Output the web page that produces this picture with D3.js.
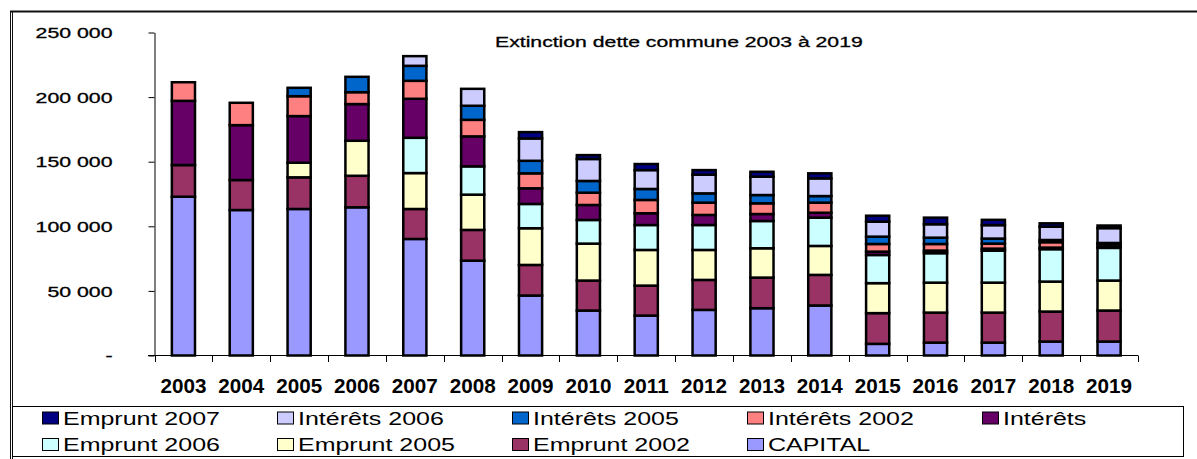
<!DOCTYPE html>
<html><head><meta charset="utf-8">
<script src="https://cdn.jsdelivr.net/npm/d3@7/dist/d3.min.js"></script>
<style>html,body{margin:0;padding:0;background:#fff;overflow:hidden;} svg{display:block;font-family:"Liberation Sans",Arial,sans-serif;}</style>
</head><body><svg id="c" width="1197" height="459"></svg>
<script>
const title = "Extinction dette commune 2003 à 2019";
const years = ["2003","2004","2005","2006","2007","2008","2009","2010","2011","2012","2013","2014","2015","2016","2017","2018","2019"];
const seriesNames = ["CAPITAL","Emprunt 2002","Emprunt 2005","Emprunt 2006","Intérêts","Intérêts 2002","Intérêts 2005","Intérêts 2006","Emprunt 2007"];
const seriesColors = ["#9999FF","#993366","#FFFFCC","#CCFFFF","#660066","#FF8080","#0066CC","#CCCCFF","#000080"];
const capital     = [122900,112600,113400,114700,90200,73400,46400,34800,30900,35300,36600,38700,9000,10000,10000,10800,10800];
const emprunt2002 = [24500,23200,24500,24400,23200,23800,23700,23200,23200,23200,23700,23700,23800,23200,23200,23200,24000];
const emprunt2005 = [0,0,11300,27100,27800,27300,28400,28600,27600,23200,22700,22400,23200,23200,23200,23200,23200];
const emprunt2006 = [0,0,0,0,27300,21900,18800,18300,19300,19300,21100,21900,21800,22800,24800,25100,25300];
const interets    = [49700,42500,36100,28400,30200,23200,12100,11600,9100,7800,5400,3800,2600,2000,1500,1200,800];
const interets2002= [14400,17300,15400,9200,13900,12800,11600,9500,10300,9500,8300,7800,5900,5100,3900,4200,2000];
const interets2005= [0,0,6500,11900,11600,10900,9700,9100,8500,7200,6400,5100,5700,4900,3900,1700,1000];
const interets2006= [0,0,0,0,7500,13100,17300,17000,14600,14400,14200,13700,11600,10400,10400,10300,11500];
const emprunt2007 = [0,0,0,0,0,0,4900,3000,4700,3600,3800,3900,4600,5100,4100,2600,2000];
const yTicks = [0,50000,100000,150000,200000,250000];
const legendRow1 = ["Emprunt 2007","Intérêts 2006","Intérêts 2005","Intérêts 2002","Intérêts"];
const legendRow2 = ["Emprunt 2006","Emprunt 2005","Emprunt 2002","CAPITAL"];

const seriesValues = [capital,emprunt2002,emprunt2005,emprunt2006,interets,interets2002,interets2005,interets2006,emprunt2007];
const colorOf = d3.scaleOrdinal().domain(seriesNames).range(seriesColors);
const table = years.map((yr,i)=>{const o={year:yr}; seriesNames.forEach((s,j)=>o[s]=seriesValues[j][i]); return o;});
const stacked = d3.stack().keys(seriesNames)(table);

const svg = d3.select("#c");
const x = d3.scaleBand().domain(years).range([154.5,1138]).paddingInner(0.6).paddingOuter(0.3);
const y = d3.scaleLinear().domain([0,250000]).range([355.5,32.5]);

// frame
svg.append("line").attr("x1",10).attr("x2",1197).attr("y1",11.5).attr("y2",11.5).attr("stroke","#111").attr("stroke-width",2);
svg.append("line").attr("x1",10.5).attr("x2",10.5).attr("y1",11).attr("y2",459).attr("stroke","#111");
svg.append("line").attr("x1",12.5).attr("x2",12.5).attr("y1",11).attr("y2",459).attr("stroke","#111");

function hscale(sel, k){ sel.each(function(){ const t=d3.select(this); const tx=+t.attr("data-x"), ty=+t.attr("data-y"); t.attr("x",0).attr("y",0).attr("transform",`translate(${tx},${ty}) scale(${k},1)`); }); }

// title
const tt = svg.append("text").attr("data-x",495).attr("data-y",46.7).attr("font-size",15).attr("fill","#000").attr("stroke","#000").attr("stroke-width",0.3).text(title);
hscale(tt, 368/tt.node().getComputedTextLength());

// y axis
const fmt = d => d===0 ? "-" : d3.format(",")(d).replace(/,/g," ");
const ya = svg.append("g").attr("transform","translate(154.5,0)")
  .call(d3.axisLeft(y).tickValues(yTicks).tickSize(6).tickSizeOuter(0).tickFormat(fmt));
ya.select(".domain").attr("stroke","#000");
ya.selectAll(".tick line").attr("stroke","#000");
const yt = ya.selectAll(".tick text").attr("font-size",14.5).attr("fill","#000").attr("stroke","#000").attr("stroke-width",0.3)
  .attr("font-family",'"Liberation Sans",Arial,sans-serif').attr("text-anchor","end").attr("dy",null)
  .attr("dominant-baseline","central");
yt.each(function(){ d3.select(this).attr("data-x",-42).attr("data-y",0.5); });
let natY = 0; yt.each(function(d){ if(d===250000) natY=this.getComputedTextLength(); });
hscale(yt, 77/natY);

// x axis line & boundary ticks
svg.append("line").attr("x1",148).attr("x2",1138).attr("y1",355.5).attr("y2",355.5).attr("stroke","#000");
const bounds = years.map(yr => x(yr)+x.bandwidth()/2-x.step()/2).concat([x(years[years.length-1])+x.bandwidth()/2+x.step()/2]);
svg.append("g").selectAll("line").data(bounds).join("line")
  .attr("x1",d=>Math.round(d)+0.5).attr("x2",d=>Math.round(d)+0.5).attr("y1",355.5).attr("y2",362).attr("stroke","#000");

// year labels
const xl = svg.append("g").selectAll("text").data(years).join("text")
  .attr("data-x",d=>x(d)+x.bandwidth()/2).attr("data-y",393).attr("text-anchor","middle")
  .attr("font-size",20).attr("font-weight","bold").attr("fill","#000").text(d=>d);
hscale(xl, 46/xl.node().getComputedTextLength());

// bars
svg.append("g").selectAll("g").data(stacked).join("g").attr("fill",s=>colorOf(s.key))
  .selectAll("rect").data(s=>s.filter(d=>d[1]-d[0]>0)).join("rect")
  .attr("x",d=>x(d.data.year)).attr("width",x.bandwidth())
  .attr("y",d=>y(d[1])).attr("height",d=>y(d[0])-y(d[1]))
  .attr("stroke","#000").attr("stroke-width",2.5);

// legend
svg.append("rect").attr("x",12.5).attr("y",406.5).attr("width",1171).attr("height",50).attr("fill","none").attr("stroke","#000");
const legendCols = d3.scaleLinear().domain([0,1]).range([42,277]);
const rows = [{items:legendRow1,base:424.5},{items:legendRow2,base:451}];
const lg = svg.append("g");
const allTexts = [];
rows.forEach(r=>{
  r.items.forEach((name,i)=>{
    const cx = legendCols(i);
    lg.append("rect").attr("x",cx+0.5).attr("y",r.base-12.5).attr("width",16).attr("height",12)
      .attr("fill",colorOf(name)).attr("stroke","#000").attr("stroke-width",1);
    const t = lg.append("text").attr("data-x",cx+21).attr("data-y",r.base).attr("font-size",17.5).attr("fill","#000").text(name);
    allTexts.push(t.node());
  });
});
const lt = d3.selectAll(allTexts);
hscale(lt, 157/allTexts[0].getComputedTextLength());
</script></body></html>
